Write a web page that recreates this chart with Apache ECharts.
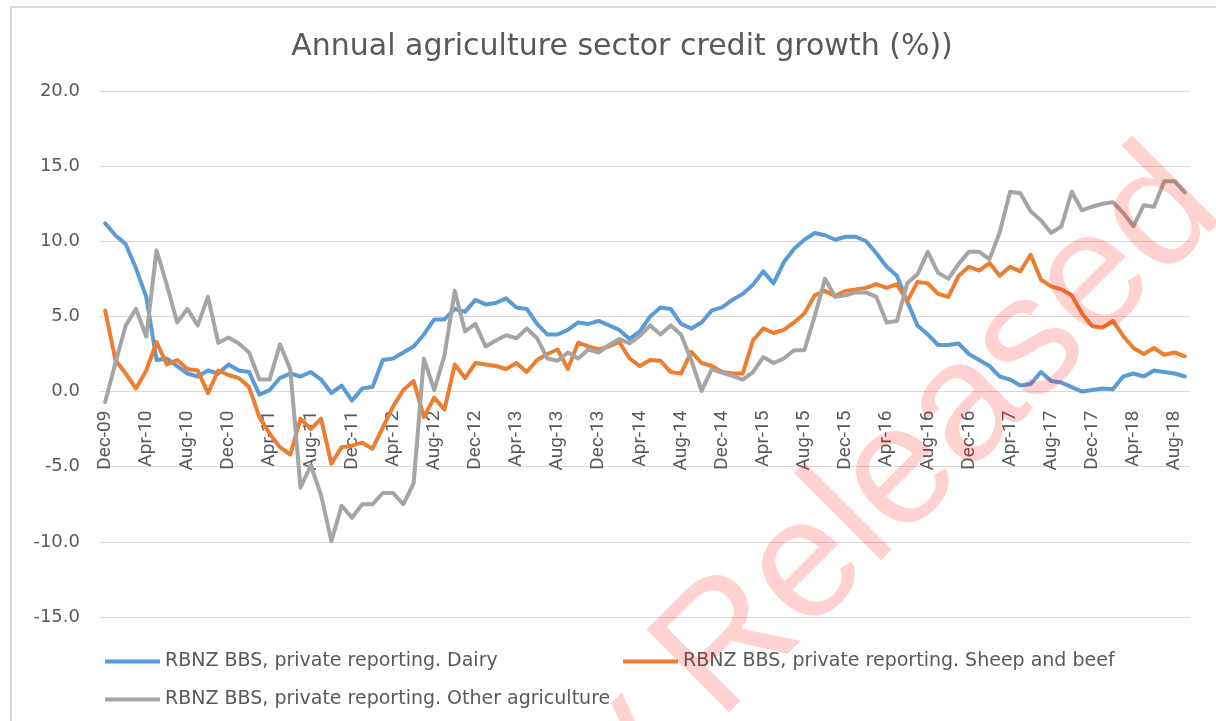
<!DOCTYPE html>
<html>
<head>
<meta charset="utf-8">
<title>Annual agriculture sector credit growth</title>
<script src="https://cdn.jsdelivr.net/npm/echarts@6/dist/echarts.min.js"></script>
<style>
    html, body { margin: 0; padding: 0; background: #fff; }
    #chart { width: 1216px; height: 721px; }
</style>
</head>
<body>
<div id="chart"></div>
<script>
(function () {
    'use strict';

    /* -- Data (monthly, Dec-09 .. Sep-18) -- */

    var MONTHS = ['Jan', 'Feb', 'Mar', 'Apr', 'May', 'Jun', 'Jul', 'Aug', 'Sep', 'Oct', 'Nov', 'Dec'];
    var categories = [];
    for (var k = 0; k < 106; k++) {
        var m = (11 + k) % 12;
        var y = 9 + Math.floor((11 + k) / 12);
        categories.push(MONTHS[m] + '-' + (y < 10 ? '0' + y : y));
    }

    var seriesNames = [
        'RBNZ BBS, private reporting. Dairy',
        'RBNZ BBS, private reporting. Sheep and beef',
        'RBNZ BBS, private reporting. Other agriculture'
    ];

    var dairy = [
        11.2, 10.4, 9.8, 8.2, 6.3, 2.1, 2.2, 1.7, 1.2, 1.0, 1.4, 1.2,
        1.8, 1.4, 1.3, -0.2, 0.1, 0.9, 1.2, 1.0, 1.3, 0.8, -0.1, 0.4,
        -0.6, 0.2, 0.3, 2.1, 2.2, 2.6, 3.0, 3.8, 4.8, 4.8, 5.5, 5.3,
        6.1, 5.8, 5.9, 6.2, 5.6, 5.5, 4.5, 3.8, 3.8, 4.1, 4.6, 4.5,
        4.7, 4.4, 4.1, 3.5, 4.0, 5.0, 5.6, 5.5, 4.5, 4.2, 4.6, 5.4,
        5.6, 6.1, 6.5, 7.1, 8.0, 7.2, 8.6, 9.5, 10.1, 10.55, 10.4, 10.1,
        10.3, 10.3, 10.0, 9.2, 8.3, 7.7, 6.0, 4.4, 3.8, 3.1, 3.1, 3.2,
        2.5, 2.1, 1.7, 1.0, 0.8, 0.4, 0.5, 1.3, 0.7, 0.6, 0.3, 0.0,
        0.1, 0.2, 0.15, 1.0, 1.2, 1.0, 1.4, 1.3, 1.2, 1.0
    ];

    var sheepBeef = [
        5.4, 2.1, 1.2, 0.2, 1.4, 3.3, 1.8, 2.1, 1.5, 1.4, -0.1, 1.4,
        1.1, 0.9, 0.3, -1.7, -2.8, -3.7, -4.2, -1.8, -2.5, -1.8, -4.8, -3.7,
        -3.6, -3.4, -3.8, -2.4, -1.0, 0.1, 0.7, -1.7, -0.4, -1.2, 1.8, 0.9,
        1.9, 1.8, 1.7, 1.5, 1.9, 1.3, 2.1, 2.5, 2.8, 1.5, 3.25, 3.0,
        2.8, 3.0, 3.3, 2.2, 1.7, 2.1, 2.05, 1.3, 1.2, 2.65, 1.9, 1.7,
        1.3, 1.2, 1.2, 3.4, 4.2, 3.9, 4.1, 4.6, 5.2, 6.4, 6.7, 6.35,
        6.7, 6.8, 6.9, 7.15, 6.9, 7.15, 6.0, 7.3, 7.2, 6.5, 6.3, 7.7,
        8.3, 8.05, 8.55, 7.7, 8.3, 8.0, 9.1, 7.45, 7.0, 6.8, 6.4, 5.2,
        4.35, 4.25, 4.7, 3.7, 2.9, 2.5, 2.9, 2.45, 2.6, 2.35
    ];

    var otherAg = [
        -0.7, 1.9, 4.4, 5.5, 3.65, 9.4, 7.1, 4.6, 5.5, 4.4, 6.3, 3.25,
        3.6, 3.2, 2.6, 0.8, 0.8, 3.15, 1.5, -6.4, -4.9, -6.9, -9.95, -7.6,
        -8.4, -7.5, -7.5, -6.75, -6.75, -7.5, -6.1, 2.2, 0.1, 2.4, 6.7, 4.0,
        4.5, 3.0, 3.4, 3.75, 3.55, 4.2, 3.55, 2.2, 2.05, 2.6, 2.2, 2.8,
        2.6, 3.1, 3.5, 3.2, 3.7, 4.4, 3.8, 4.4, 3.8, 2.1, 0.05, 1.5,
        1.25, 1.05, 0.8, 1.3, 2.3, 1.9, 2.2, 2.75, 2.75, 5.0, 7.5, 6.3,
        6.4, 6.6, 6.6, 6.3, 4.6, 4.7, 7.2, 7.8, 9.3, 7.9, 7.5, 8.5,
        9.3, 9.3, 8.8, 10.6, 13.3, 13.2, 12.0, 11.4, 10.55, 11.0, 13.3, 12.05,
        12.3, 12.5, 12.6, 11.9, 11.0, 12.4, 12.3, 14.0, 14.0, 13.25
    ];

    var yMin = -15, yMax = 20, yStep = 5;

    /* -- Styling -- */

    var THEME = {
        text: '#595959',
        grid: '#d9d9d9',
        colors: ['#5b9bd5', '#ed7d31', '#a5a5a5'],
        font: 'DejaVu Sans',
        fontAxis: 'Roboto'
    };

    var GRID = { left: 100, right: 26, top: 91, bottom: 104 };
    var plotHeight = 721 - GRID.top - GRID.bottom;
    // Category axis sits at y = 0 (Excel "crosses at zero").
    var zeroOffset = plotHeight * (0 - yMin) / (yMax - yMin);

    function makeSeries(name, data, color) {
        return {
            name: name,
            type: 'line',
            data: data,
            symbol: 'none',
            color: color,
            lineStyle: { width: 4, color: color, join: 'round', cap: 'round' },
            emphasis: { disabled: true }
        };
    }

    function makeLegend(name, left, top) {
        return {
            data: [name],
            left: left,
            top: top,
            icon: 'rect',
            itemWidth: 55,
            itemHeight: 4,
            selectedMode: false,
            textStyle: { color: THEME.text, fontSize: 19, fontFamily: THEME.font }
        };
    }

    var chart = echarts.init(document.getElementById('chart'), null, { renderer: 'canvas' });

    chart.setOption({
        animation: false,
        backgroundColor: '#fff',
        title: {
            text: 'Annual agriculture sector credit growth (%))',
            left: 617,
            top: 27,
            textAlign: 'center',
            textStyle: { color: THEME.text, fontSize: 30, fontWeight: 'normal', fontFamily: THEME.font }
        },
        legend: [
            makeLegend(seriesNames[0], 100, 647),
            makeLegend(seriesNames[1], 618, 647),
            makeLegend(seriesNames[2], 100, 685)
        ],
        grid: GRID,
        xAxis: {
            type: 'category',
            data: categories,
            boundaryGap: true,
            position: 'bottom',
            offset: -zeroOffset,
            axisLine: { onZero: true, lineStyle: { color: THEME.grid, width: 1 } },
            axisTick: { interval: 3, length: 5, lineStyle: { color: THEME.grid } },
            axisLabel: {
                interval: 3,
                rotate: 90,
                margin: 19,
                padding: [10, 0, 0, 0],
                color: THEME.text,
                fontSize: 19,
                fontFamily: THEME.fontAxis
            },
            splitLine: { show: false }
        },
        yAxis: {
            type: 'value',
            min: yMin,
            max: yMax,
            interval: yStep,
            axisLine: { show: false },
            axisTick: { show: false },
            axisLabel: {
                margin: 20,
                color: THEME.text,
                fontSize: 18,
                fontFamily: THEME.font,
                formatter: function (v) { return v.toFixed(1); }
            },
            splitLine: { lineStyle: { color: THEME.grid, width: 1 } }
        },
        series: [
            makeSeries(seriesNames[0], dairy, THEME.colors[0]),
            makeSeries(seriesNames[1], sheepBeef, THEME.colors[1]),
            makeSeries(seriesNames[2], otherAg, THEME.colors[2])
        ],
        graphic: [
            {
                type: 'rect',
                silent: true,
                z: -1,
                shape: { x: 11, y: 7, width: 1230, height: 760 },
                style: { fill: null, stroke: THEME.grid, lineWidth: 2 }
            },
            {
                // Release stamp across the chart, anchored at its right end.
                type: 'text',
                silent: true,
                z: 100,
                x: 1194,
                y: 181,
                rotation: Math.PI / 4,
                style: {
                    text: 'Proactively Released',
                    fontSize: 170,
                    fontFamily: 'Liberation Sans',
                    fill: 'rgba(255, 0, 0, 0.18)',
                    align: 'right',
                    verticalAlign: 'middle'
                }
            }
        ]
    });
})();
</script>
</body>
</html>
